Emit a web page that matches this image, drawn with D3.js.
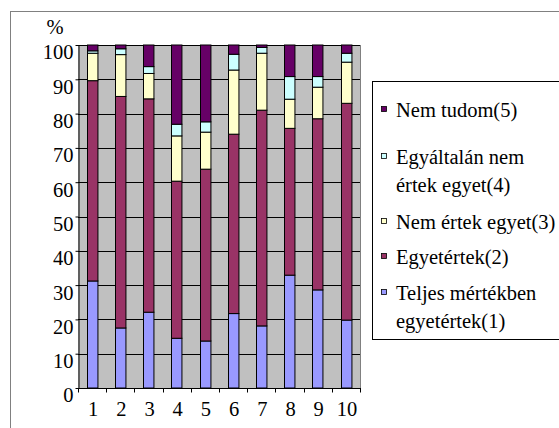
<!DOCTYPE html>
<html>
<head>
<meta charset="utf-8">
<script src="https://cdn.jsdelivr.net/npm/d3@7"></script>
<style>
  body { margin: 0; background: #fff; }
  svg { display: block; }
  svg text { font-family: "Liberation Serif", "DejaVu Serif", serif; }
</style>
</head>
<body>
<div id="chart"></div>
<script>
// data
var categories = ["1", "2", "3", "4", "5", "6", "7", "8", "9", "10"];
var teljes     = [31.2, 17.5, 22.1, 14.5, 13.7, 21.7, 18.1, 32.9, 28.6, 19.8];
var egyet      = [58.4, 67.5, 62.2, 45.8, 50.1, 52.3, 62.9, 42.8, 49.9, 63.2];
var nemErtek   = [8.0, 12.2, 7.4, 13.2, 10.8, 18.7, 16.6, 8.5, 9.2, 12.0];
var egyaltalan = [0.7, 1.7, 2.0, 3.4, 3.0, 4.6, 1.7, 6.6, 3.1, 2.6];
var nemTudom   = [1.7, 1.1, 6.3, 23.1, 22.4, 2.7, 0.7, 9.2, 9.2, 2.4];
var yTicks = [0, 10, 20, 30, 40, 50, 60, 70, 80, 90, 100];

var seriesKeys = ["s1", "s2", "s3", "s4", "s5"];
var seriesColors = ["#9999FF", "#993366", "#FFFFCC", "#CCFFFF", "#660066"];
var legendItems = [
  { key: "s5", lines: ["Nem tudom(5)"] },
  { key: "s4", lines: ["Egyáltalán nem", "értek egyet(4)"] },
  { key: "s3", lines: ["Nem értek egyet(3)"] },
  { key: "s2", lines: ["Egyetértek(2)"] },
  { key: "s1", lines: ["Teljes mértékben", "egyetértek(1)"] }
];

var width = 559, height = 428;
var plot = { left: 78, right: 360, top: 45, bottom: 388 };
var fontSize = 20.5;

var rows = categories.map(function (c, i) {
  return { cat: c, s1: teljes[i], s2: egyet[i], s3: nemErtek[i], s4: egyaltalan[i], s5: nemTudom[i] };
});

var svg = d3.select("#chart").append("svg")
  .attr("width", width)
  .attr("height", height);

svg.append("rect").attr("width", width).attr("height", height).attr("fill", "#fff");

// outer chart frame (runs off the right/bottom edge)
svg.append("rect")
  .attr("x", 10.5).attr("y", 11.5)
  .attr("width", 600).attr("height", 500)
  .attr("fill", "none")
  .attr("stroke", "#808080");

var x = d3.scaleBand()
  .domain(categories)
  .range([plot.left, plot.right])
  .paddingInner(0.63)
  .paddingOuter(0.315);

var y = d3.scaleLinear().domain([0, 100]).range([plot.bottom, plot.top]);

var color = d3.scaleOrdinal().domain(seriesKeys).range(seriesColors);

// plot background
svg.append("rect")
  .attr("x", plot.left).attr("y", plot.top)
  .attr("width", plot.right - plot.left)
  .attr("height", plot.bottom - plot.top)
  .attr("fill", "#C0C0C0");

// gridlines
svg.append("g")
  .selectAll("line")
  .data(yTicks.slice(1))
  .enter()
  .append("line")
  .attr("x1", plot.left).attr("x2", plot.right)
  .attr("y1", function (d) { return Math.round(y(d)) + 0.5; })
  .attr("y2", function (d) { return Math.round(y(d)) + 0.5; })
  .attr("stroke", "#000")
  .attr("stroke-width", 1);

// right border of plot area
svg.append("line")
  .attr("x1", plot.right + 0.5).attr("x2", plot.right + 0.5)
  .attr("y1", plot.top).attr("y2", plot.bottom)
  .attr("stroke", "#808080");

// stacked bars
var stacked = d3.stack().keys(seriesKeys)(rows);

svg.append("g")
  .selectAll("g")
  .data(stacked)
  .enter()
  .append("g")
  .attr("fill", function (d) { return color(d.key); })
  .selectAll("rect")
  .data(function (d) { return d; })
  .enter()
  .append("rect")
  .attr("x", function (d) { return Math.round(x(d.data.cat)) + 0.5; })
  .attr("y", function (d) { return y(d[1]); })
  .attr("width", x.bandwidth())
  .attr("height", function (d) { return y(d[0]) - y(d[1]); })
  .attr("stroke", "#000")
  .attr("stroke-width", 1);

// y axis
var yAxis = svg.append("g")
  .attr("transform", "translate(" + (plot.left + 0.5) + ",0)")
  .call(d3.axisLeft(y).tickValues(yTicks).tickSize(3).tickSizeOuter(0));
yAxis.attr("font-family", null).attr("font-size", null);
yAxis.select(".domain").attr("stroke", "#000");
yAxis.selectAll(".tick line").attr("stroke", "#000");
yAxis.selectAll(".tick text")
  .attr("x", -5)
  .attr("dy", "0.68em")
  .style("font-size", fontSize + "px")
  .attr("fill", "#000");

// x axis: ticks between categories
var xAxis = svg.append("g")
  .attr("transform", "translate(0," + (plot.bottom + 0.5) + ")");
xAxis.append("line")
  .attr("x1", plot.left).attr("x2", plot.right + 1)
  .attr("stroke", "#000");
xAxis.selectAll(".sep")
  .data(d3.range(categories.length + 1))
  .enter()
  .append("line")
  .attr("class", "sep")
  .attr("x1", function (i) { return Math.round(plot.left + i * x.step()) + 0.5; })
  .attr("x2", function (i) { return Math.round(plot.left + i * x.step()) + 0.5; })
  .attr("y1", 0).attr("y2", 4)
  .attr("stroke", "#000");
xAxis.selectAll(".lbl")
  .data(categories)
  .enter()
  .append("text")
  .attr("class", "lbl")
  .attr("x", function (d) { return x(d) + x.bandwidth() / 2 + 1; })
  .attr("y", 27)
  .attr("text-anchor", "middle")
  .style("font-size", fontSize + "px")
  .attr("fill", "#000")
  .text(function (d) { return d; });

// % label
svg.append("text")
  .attr("x", 55).attr("y", 34)
  .attr("text-anchor", "middle")
  .style("font-size", fontSize + "px")
  .attr("fill", "#000")
  .text("%");

// legend
svg.append("rect")
  .attr("x", 372.5).attr("y", 81.5)
  .attr("width", 300).attr("height", 258)
  .attr("fill", "#fff")
  .attr("stroke", "#000");

var legendY = [110, 157, 222, 257, 293];
var lineGap = 28;

var leg = svg.append("g")
  .selectAll("g")
  .data(legendItems)
  .enter()
  .append("g")
  .attr("transform", function (d, i) { return "translate(0," + legendY[i] + ")"; });

leg.append("rect")
  .attr("x", 381.5).attr("y", -3.5)
  .attr("width", 5).attr("height", 5)
  .attr("fill", function (d) { return color(d.key); })
  .attr("stroke", "#000")
  .attr("stroke-width", 0.8);

leg.append("text")
  .style("font-size", fontSize + "px")
  .attr("fill", "#000")
  .selectAll("tspan")
  .data(function (d) { return d.lines; })
  .enter()
  .append("tspan")
  .attr("x", 396)
  .attr("y", function (d, i) { return 7 + i * lineGap; })
  .text(function (d) { return d; });
</script>
</body>
</html>
